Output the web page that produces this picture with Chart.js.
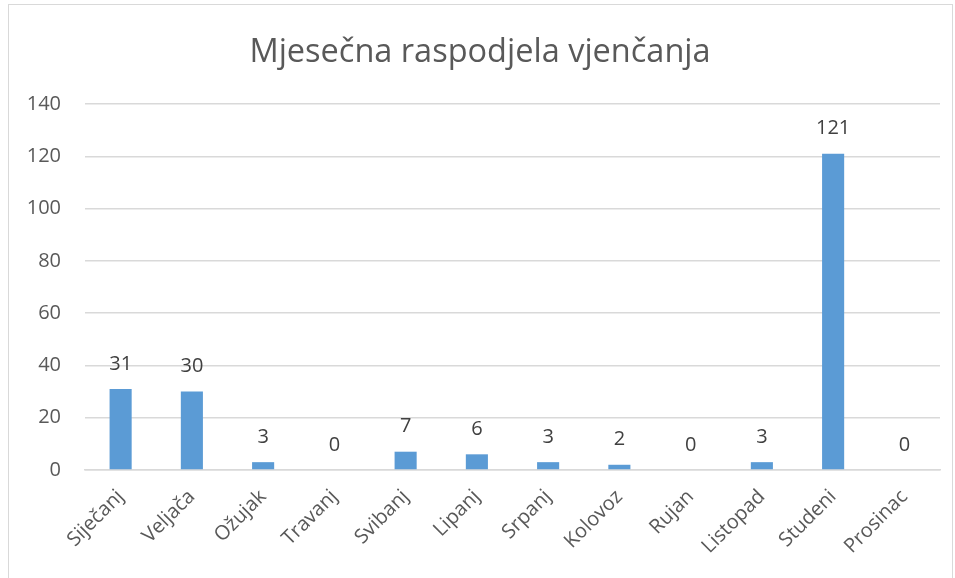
<!DOCTYPE html>
<html>
<head>
<meta charset="utf-8">
<script src="https://cdn.jsdelivr.net/npm/chart.js@4"></script>
<style>
  body { margin: 0; background: #fff; }
  #okvir {
    position: absolute; left: 8px; top: 4px;
    width: 943px; height: 600px;
    border: 1.5px solid #d9d9d9;
  }
  #wrap { position: absolute; left: 0; top: 0; width: 955px; height: 578px; }
</style>
</head>
<body>
<div id="okvir"></div>
<div id="wrap"><canvas id="grafikon"></canvas></div>
<script>
// Podaci
const mjeseci = ['Siječanj', 'Veljača', 'Ožujak', 'Travanj', 'Svibanj', 'Lipanj',
                 'Srpanj', 'Kolovoz', 'Rujan', 'Listopad', 'Studeni', 'Prosinac'];
const vjencanja = [31, 30, 3, 0, 7, 6, 3, 2, 0, 3, 121, 0];
const naslov = 'Mjesečna raspodjela vjenčanja';

const font = "'Open Sans', 'Noto Sans', sans-serif";

// Oznake vrijednosti iznad stupaca
const oznake = {
    id: 'oznake',
    afterDatasetsDraw(chart) {
        const ctx = chart.ctx;
        const meta = chart.getDatasetMeta(0);
        ctx.save();
        ctx.font = '20px ' + font;
        ctx.fillStyle = '#404040';
        ctx.textAlign = 'center';
        ctx.textBaseline = 'middle';
        meta.data.forEach((bar, i) => {
            ctx.fillText(String(vjencanja[i]), bar.x, bar.y - 25);
        });
        ctx.restore();
    }
};

const ctx = document.getElementById('grafikon').getContext('2d');
new Chart(ctx, {
    type: 'bar',
    data: {
        labels: mjeseci,
        datasets: [{
            data: vjencanja,
            backgroundColor: '#5b9bd5',
            borderWidth: 0,
            barPercentage: 0.31,
            categoryPercentage: 1
        }]
    },
    options: {
        responsive: true,
        maintainAspectRatio: false,
        animation: false,
        layout: { padding: { left: 20, right: 15, top: 33, bottom: 0 } },
        plugins: {
            legend: { display: false },
            tooltip: { enabled: false },
            title: {
                display: true,
                text: naslov,
                color: '#595959',
                font: { family: font, size: 32.5, weight: 'normal' },
                padding: { top: 0, bottom: 32 }
            }
        },
        scales: {
            x: {
                grid: { display: false },
                border: { color: '#d9d9d9', width: 1.5 },
                ticks: {
                    color: '#595959',
                    font: { family: font, size: 20 },
                    minRotation: 45,
                    maxRotation: 45,
                    padding: 7
                },
                afterFit(scale) { scale.height = 108; }
            },
            y: {
                min: 0,
                max: 140,
                ticks: {
                    stepSize: 20,
                    color: '#595959',
                    font: { family: font, size: 20 },
                    padding: 24
                },
                grid: { color: '#d9d9d9', lineWidth: 1.5, drawTicks: false },
                border: { display: false },
                afterFit(scale) { scale.width = 65; }
            }
        }
    },
    plugins: [oznake]
});
</script>
</body>
</html>
